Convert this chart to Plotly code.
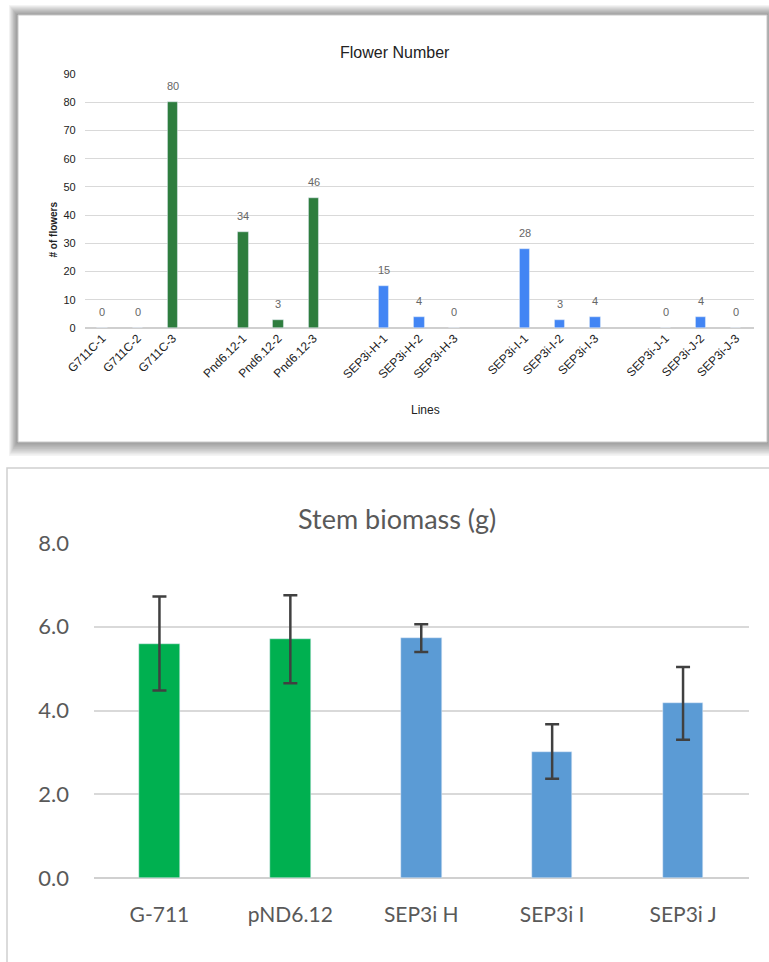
import plotly.graph_objects as go

W, H = 769, 962

# ---------------- data: Flower Number ----------------
green_lines = ["G711C-1", "G711C-2", "G711C-3", "Pnd6.12-1", "Pnd6.12-2", "Pnd6.12-3"]
green_flowers = [0, 0, 80, 34, 3, 46]
blue_lines = ["SEP3i-H-1", "SEP3i-H-2", "SEP3i-H-3",
              "SEP3i-I-1", "SEP3i-I-2", "SEP3i-I-3",
              "SEP3i-J-1", "SEP3i-J-2", "SEP3i-J-3"]
blue_flowers = [15, 4, 0, 28, 3, 4, 0, 4, 0]
# category order with blank spacers between groups
line_order = ["G711C-1", "G711C-2", "G711C-3", " ",
              "Pnd6.12-1", "Pnd6.12-2", "Pnd6.12-3", "  ",
              "SEP3i-H-1", "SEP3i-H-2", "SEP3i-H-3", "   ",
              "SEP3i-I-1", "SEP3i-I-2", "SEP3i-I-3", "    ",
              "SEP3i-J-1", "SEP3i-J-2", "SEP3i-J-3"]
flower_ticks = [0, 10, 20, 30, 40, 50, 60, 70, 80, 90]

# ---------------- data: Stem biomass ----------------
green_groups = ["G-711", "pND6.12"]
green_biomass = [5.6, 5.7]
green_err = [1.12, 1.05]
blue_groups = ["SEP3i H", "SEP3i I", "SEP3i J"]
blue_biomass = [5.73, 3.02, 4.17]
blue_err = [0.33, 0.65, 0.87]
biomass_ticks = [0, 2, 4, 6, 8]
biomass_ticktext = ["0.0", "2.0", "4.0", "6.0", "8.0"]


def px(x):
    return x / W


def py(y):
    return 1 - y / H


fig = go.Figure()

# top chart bars
fig.add_trace(go.Bar(x=green_lines, y=green_flowers, marker_color="#2E7D3E",
                     width=0.3, xaxis="x", yaxis="y", showlegend=False))
fig.add_trace(go.Bar(x=blue_lines, y=blue_flowers, marker_color="#4285F4",
                     width=0.3, xaxis="x", yaxis="y", showlegend=False))

# bottom chart bars
fig.add_trace(go.Bar(x=green_groups, y=green_biomass, marker_color="#00B050",
                     width=0.31, xaxis="x2", yaxis="y2", showlegend=False,
                     error_y=dict(type="data", array=green_err, color="#404040",
                                  thickness=2.5, width=7)))
fig.add_trace(go.Bar(x=blue_groups, y=blue_biomass, marker_color="#5B9BD5",
                     width=0.31, xaxis="x2", yaxis="y2", showlegend=False,
                     error_y=dict(type="data", array=blue_err, color="#404040",
                                  thickness=2.5, width=7)))

shapes = []
# shadow of top card
for i in range(10, 0, -1):
    shapes.append(dict(type="rect", xref="paper", yref="paper", layer="below",
                       x0=px(17 - i * 0.8), x1=px(767 + i * 0.8), y0=py(442 + i * 1.4), y1=py(15 - i),
                       fillcolor="rgba(0,0,0,0.045)", line=dict(width=0)))
# top card
shapes.append(dict(type="rect", xref="paper", yref="paper", layer="below",
                   x0=px(18), x1=px(767), y0=py(442), y1=py(15),
                   fillcolor="white", line=dict(color="#c8c8c8", width=1)))
# bottom card
shapes.append(dict(type="rect", xref="paper", yref="paper", layer="below",
                   x0=px(7), x1=px(790), y0=py(1000), y1=py(468),
                   fillcolor="white", line=dict(color="#d0d0d0", width=1.5)))

annotations = []
# value labels top chart
for xs, ys in ((green_lines, green_flowers), (blue_lines, blue_flowers)):
    for xv, yv in zip(xs, ys):
        annotations.append(dict(x=xv, y=yv, xref="x", yref="y", text=str(yv),
                                showarrow=False, yanchor="middle", yshift=16,
                                font=dict(family="Liberation Sans, Arial", size=11, color="#666666")))
annotations += [
    dict(x=px(395), y=py(42), xref="paper", yref="paper", text="Flower Number",
         showarrow=False, font=dict(family="Liberation Sans, Arial", size=16, color="#222")),
    dict(x=px(45), y=py(200), xref="paper", yref="paper", text="<b># of flowers</b>",
         textangle=-90, showarrow=False,
         font=dict(family="Liberation Sans, Arial", size=10, color="#222")),
    dict(x=px(425), y=py(410), xref="paper", yref="paper", text="Lines",
         showarrow=False, font=dict(family="Liberation Sans, Arial", size=12, color="#222")),
    dict(x=px(397), y=py(518), xref="paper", yref="paper", text="Stem biomass (g)",
         showarrow=False, font=dict(family="Lato, Open Sans", size=27, color="#595959")),
]

fig.update_layout(
    width=W, height=H,
    margin=dict(l=0, r=0, t=0, b=0),
    paper_bgcolor="white", plot_bgcolor="rgba(0,0,0,0)",
    bargap=0,
    shapes=shapes, annotations=annotations,
    xaxis=dict(domain=[px(84.7), px(753.5)], anchor="y", type="category",
               categoryorder="array", categoryarray=line_order,
               range=[-0.5, len(line_order) - 0.5], automargin=False,
               tickangle=-45, showgrid=False, showline=False, ticks="",
               tickfont=dict(family="Liberation Sans, Arial", size=12, color="#222")),
    yaxis=dict(domain=[py(328), py(74)], anchor="x", range=[0, 90], automargin=False,
               tickvals=flower_ticks, showgrid=True, gridcolor="#d9d9d9", gridwidth=1,
               zeroline=True, zerolinecolor="#cfcfcf", zerolinewidth=1.5,
               ticks="", ticklabelstandoff=8,
               tickfont=dict(family="Liberation Sans, Arial", size=11, color="#222")),
    xaxis2=dict(domain=[px(94), px(748.5)], anchor="y2", type="category",
                categoryorder="array", categoryarray=green_groups + blue_groups,
                range=[-0.5, 4.5], showgrid=False, showline=False, ticks="",
                ticklabelstandoff=22, automargin=False,
                tickfont=dict(family="Lato, Open Sans", size=21, color="#595959")),
    yaxis2=dict(domain=[py(878), py(543)], anchor="x2", range=[0, 8], automargin=False,
                tickvals=biomass_ticks, ticktext=biomass_ticktext,
                showgrid=True, gridcolor="#d9d9d9", gridwidth=1.5,
                zeroline=True, zerolinecolor="#d0d0d0", zerolinewidth=1.5,
                ticks="", ticklabelstandoff=24,
                tickfont=dict(family="Lato, Open Sans", size=22, color="#595959")),
)

fig.write_html("out.html", config={"displayModeBar": False},
               post_script="document.body.style.margin='0';document.body.style.overflow='hidden';")
